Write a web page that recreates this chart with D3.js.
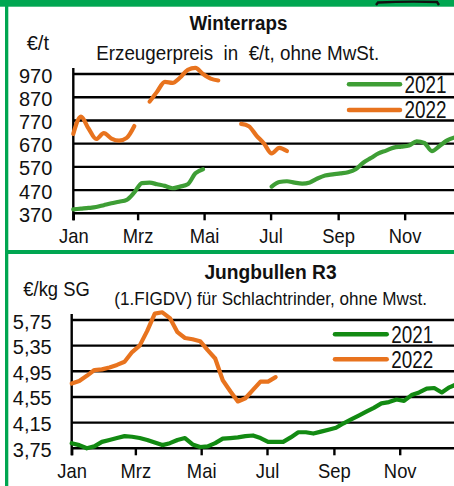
<!DOCTYPE html>
<html><head><meta charset="utf-8">
<script src="https://cdn.jsdelivr.net/npm/d3@7"></script>
<style>
html,body{margin:0;padding:0;background:#fff;}
svg{display:block;}
text{font-family:'Liberation Sans Narrow','Arial Narrow','Liberation Sans',Arial,sans-serif;fill:#111;}
</style></head>
<body>
<script>
// ---- data ----
const monthLabels = ["Jan","Mrz","Mai","Jul","Sep","Nov"];
const monthStartDays = [0,59,120,181,243,304];
const seriesNames = ["2021","2022"];

// Winterraps, €/t, weekly (KW 1..)
const rapsTicks = [370,470,570,670,770,870,970];
const raps2021 = [387,390,393,397,405,413,420,428,460,500,502,495,488,478,485,495,542,560,
  null,null,null,null,null,null,null,null,
  485,505,508,502,498,503,520,533,538,542,547,560,588,608,628,640,653,657,662,680,673,638,660,684,697];
const raps2022 = [712,786,735,690,715,692,683,695,746,null,851,895,936,932,955,988,996,970,950,942,
  null,null,755,745,705,670,628,652,638];

// Jungbullen R3, €/kg SG, weekly
const bullTicks = [3.75,4.15,4.55,4.95,5.35,5.75];
const bull2021 = [3.83,3.80,3.75,3.78,3.85,3.88,3.91,3.94,3.93,3.91,3.88,3.84,3.80,3.83,3.88,3.91,3.81,3.77,
  3.78,3.83,3.90,3.91,3.92,3.94,3.95,3.91,3.85,3.85,3.85,3.92,4.00,4.00,3.98,4.01,4.04,4.07,4.14,4.20,
  4.26,4.32,4.38,4.45,4.47,4.51,4.49,4.58,4.62,4.68,4.69,4.62,4.70,4.75];
const bull2022 = [4.76,4.80,4.88,4.97,4.98,5.01,5.05,5.10,5.25,5.35,5.58,5.85,5.87,5.78,5.56,5.47,5.45,5.42,
  5.28,5.15,4.81,4.64,4.48,4.53,4.66,4.79,4.79,4.86];

const W = 454, H = 486;
const borderGreen = "#00a651";
const orange = "#e8731e";

const svg = d3.select("body").append("svg").attr("width", W).attr("height", H);
svg.append("rect").attr("width", W).attr("height", H).attr("fill", "#fff");

// text helper with horizontal condensing
function label(g, x, y, str, o){
  return g.append("text")
    .attr("transform", `translate(${x},${y}) scale(${o.sx||1},1)`)
    .attr("text-anchor", o.anchor || "start")
    .attr("font-size", o.size || 20)
    .attr("font-weight", o.weight || "normal")
    .attr("xml:space", "preserve")
    .text(str);
}

function panel(cfg){
  const g = svg.append("g");
  const x = d3.scaleLinear().domain([0,365]).range([cfg.x0, cfg.x0 + 365*cfg.pxDay]);
  const y = d3.scaleLinear().domain(cfg.domain).range([cfg.yBottom, cfg.yTop]);
  // gridlines
  g.selectAll("line.grid").data(cfg.ticks).join("line")
    .attr("x1", cfg.x0).attr("x2", W)
    .attr("y1", d=>y(d)).attr("y2", d=>y(d))
    .attr("stroke", "#000").attr("stroke-width", 2.4);
  // y axis line
  g.append("line").attr("x1", cfg.x0).attr("x2", cfg.x0)
    .attr("y1", y(cfg.domain[1]) - 6).attr("y2", y(cfg.domain[0]) + 7)
    .attr("stroke", "#000").attr("stroke-width", 2.4);
  // x axis ticks + labels
  const xAxis = d3.axisBottom(x).tickValues(monthStartDays)
    .tickFormat((d,i)=>monthLabels[i]).tickSize(7).tickPadding(6);
  const ax = g.append("g").attr("transform", `translate(0,${y(cfg.domain[0])})`).call(xAxis);
  ax.select(".domain").remove();
  ax.selectAll(".tick line").attr("stroke", "#000").attr("stroke-width", 2.4);
  ax.selectAll(".tick text").attr("font-size", 20).attr("font-family", null).attr("fill", "#111")
    .attr("y", null).attr("dy", null)
    .attr("transform", `translate(0,${cfg.xLabelBase - y(cfg.domain[0])}) scale(0.92,1)`);
  // y tick labels
  const yAxis = d3.axisLeft(y).tickValues(cfg.ticks).tickFormat(cfg.fmt).tickSize(0).tickPadding(0);
  const ay = g.append("g").attr("transform", `translate(${cfg.yLabelRight},0)`).call(yAxis);
  ay.select(".domain").remove();
  ay.selectAll(".tick text").attr("font-size", 20).attr("font-family", null).attr("fill", "#111")
    .attr("x", 0).attr("dy", "0.40em");
  // lines
  const line = d3.line().defined(d=>d != null)
    .x((d,i)=>x(i*7)).y(d=>y(d)).curve(cfg.curve);
  cfg.series.forEach(s=>{
    g.append("path").datum(s.values).attr("d", line)
      .attr("fill","none").attr("stroke", s.color).attr("stroke-width", 4.2)
      .attr("stroke-linecap","round").attr("stroke-linejoin","round");
  });
  // legend
  cfg.series.forEach((s,i)=>{
    const ly = cfg.legendY[i];
    g.append("line").attr("x1", cfg.legendX[0]).attr("x2", cfg.legendX[1])
      .attr("y1", ly).attr("y2", ly).attr("stroke", s.color).attr("stroke-width", 4.5)
      .attr("stroke-linecap","round");
    label(g, cfg.legendX[1] + 4.5, ly + 8.3, seriesNames[i], {size: 23, sx: 0.82});
  });
  // titles
  label(g, cfg.titleX, cfg.titleY, cfg.title, {size: 20, weight: "bold", anchor: "middle", sx: cfg.titleSx});
  label(g, cfg.subX, cfg.subY, cfg.subtitle, {size: cfg.subSize, anchor: "middle", sx: cfg.subSx});
  label(g, cfg.unitX, cfg.unitY, cfg.unit, {size: 20, sx: cfg.unitSx});
}

panel({
  x0: 73.3, pxDay: 1.09, domain: [370,970], yBottom: 213.3, yTop: 74, ticks: rapsTicks,
  fmt: d=>d3.format("d")(d), yLabelRight: 52.3, xLabelBase: 243.3,
  curve: d3.curveMonotoneX,
  series: [{values: raps2021, color: "#3e9e35"}, {values: raps2022, color: orange}],
  legendX: [349, 400], legendY: [84.3, 110],
  title: "Winterraps", titleX: 238.5, titleY: 30, titleSx: 0.94,
  subtitle: "Erzeugerpreis  in  €/t, ohne MwSt.", subX: 237.7, subY: 60, subSize: 20, subSx: 0.94,
  unit: "€/t", unitX: 26.7, unitY: 50, unitSx: 1.0
});

panel({
  x0: 71.7, pxDay: 1.079, domain: [3.75,5.75], yBottom: 448.3, yTop: 320, ticks: bullTicks,
  fmt: d=>d3.format(".2f")(d).replace(".", ","), yLabelRight: 51.7, xLabelBase: 478.3,
  curve: d3.curveLinear,
  series: [{values: bull2021, color: "#128a12"}, {values: bull2022, color: orange}],
  legendX: [335, 386.7], legendY: [334.3, 359.3],
  title: "Jungbullen R3", titleX: 270.5, titleY: 279.3, titleSx: 0.96,
  subtitle: "(1.FIGDV) für Schlachtrinder, ohne Mwst.", subX: 270.6, subY: 304.5, subSize: 18.6, subSx: 0.92,
  unit: "€/kg SG", unitX: 23.3, unitY: 296, unitSx: 0.92
});

// frame: green top band, left strip, separator
svg.append("rect").attr("x", 0).attr("y", 0).attr("width", W).attr("height", 6.7).attr("fill", borderGreen);
svg.append("rect").attr("x", 5).attr("y", 0).attr("width", 3.3).attr("height", H).attr("fill", borderGreen);
svg.append("rect").attr("x", 5).attr("y", 250).attr("width", W-5).attr("height", 4).attr("fill", borderGreen);
// cut-off black mark at top right
svg.append("path").attr("d", "M376,5 L378,2.5 Q408,1 437,2 L439,5")
  .attr("fill","none").attr("stroke","#111").attr("stroke-width",2.4);
</script>
</body></html>
